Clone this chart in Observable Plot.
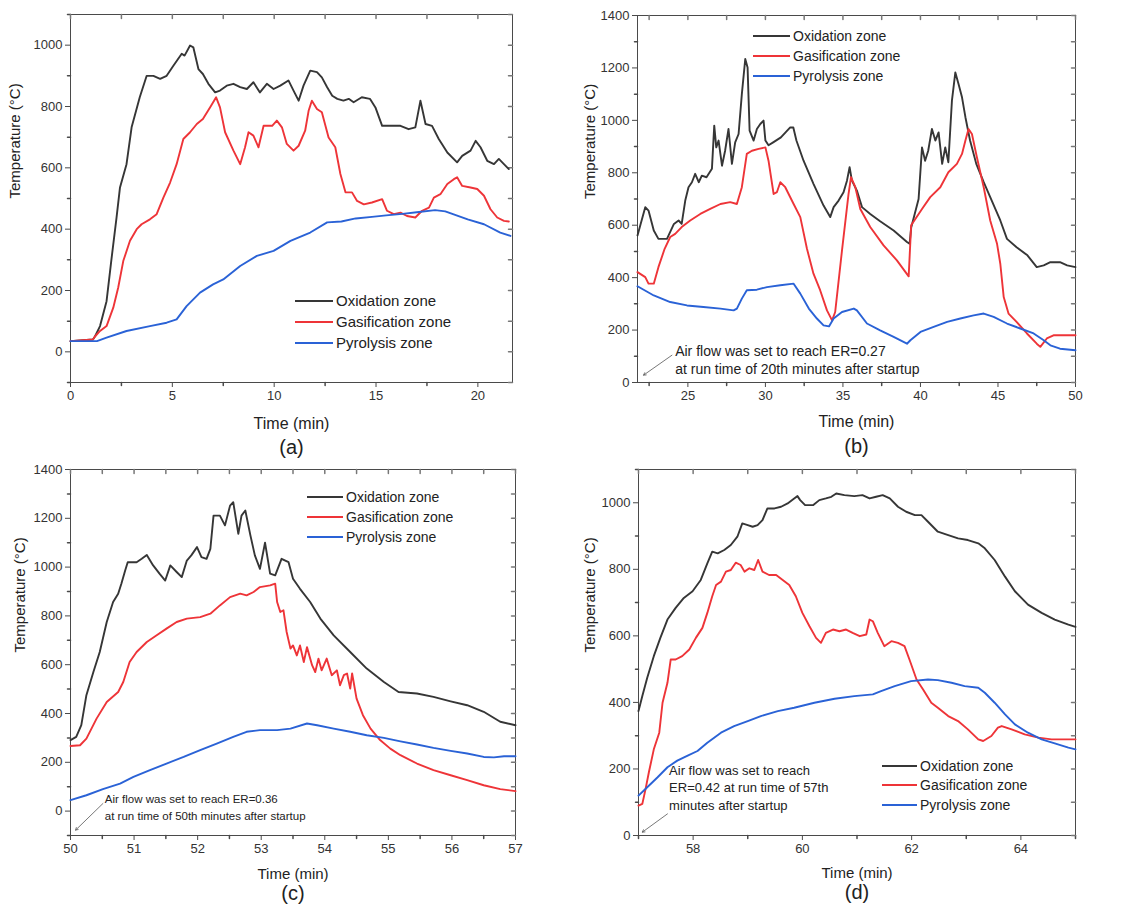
<!DOCTYPE html>
<html><head><meta charset="utf-8">
<script src="https://cdn.jsdelivr.net/npm/d3@7"></script>
<script src="https://cdn.jsdelivr.net/npm/@observablehq/plot@0.6"></script>
<style>
body{margin:0;background:#fff;font-family:"Liberation Sans",Arial,sans-serif;}
#wrap{position:relative;width:1129px;height:911px;overflow:hidden;background:#fff;}
.panel{position:absolute;}
.panel svg{overflow:visible;}
.legend{position:absolute;color:#222;}
.legend .row{display:flex;align-items:center;white-space:nowrap;}
.legend .sw{display:inline-block;height:0;border-top:2.5px solid;margin-right:3px;}
</style></head><body><div id="wrap"></div><script>
// ---------- data: [time (min), temperature (°C)] ----------
const zones = ["Oxidation zone", "Gasification zone", "Pyrolysis zone"];

const aOx = [[0,35],[1.1,40],[1.2,50],[1.45,84],[1.77,165],[2.0,296],[2.26,438],[2.43,536],[2.75,612],[3.0,732],[3.4,830],[3.74,900],[4.07,900],[4.4,890],[4.72,900],[5.05,933],[5.46,972],[5.6,966],[5.87,999],[6.03,993],[6.28,922],[6.5,906],[6.77,874],[7.1,846],[7.34,852],[7.67,868],[8.0,874],[8.33,863],[8.66,857],[8.98,879],[9.3,846],[9.64,874],[9.97,857],[10.3,868],[10.7,885],[10.95,852],[11.2,819],[11.44,868],[11.77,917],[12.1,912],[12.34,895],[12.6,863],[12.85,835],[13.1,825],[13.4,819],[13.66,825],[13.9,814],[14.3,830],[14.7,825],[14.97,797],[15.3,737],[15.87,737],[16.2,737],[16.6,726],[16.93,732],[17.18,819],[17.43,743],[17.75,737],[18.08,694],[18.5,650],[18.98,618],[19.23,639],[19.64,656],[19.89,688],[20.13,667],[20.46,623],[20.79,612],[21.03,629],[21.28,612],[21.52,596]];
const aGas = [[0,35],[1.1,40],[1.2,50],[1.45,68],[1.77,84],[2.1,144],[2.34,209],[2.59,296],[2.92,362],[3.25,400],[3.49,416],[3.9,432],[4.23,449],[4.56,503],[4.89,552],[5.21,612],[5.54,694],[5.87,716],[6.2,743],[6.5,759],[6.85,797],[7.15,830],[7.34,797],[7.59,716],[8.0,656],[8.33,612],[8.57,667],[8.74,716],[8.98,705],[9.23,667],[9.48,737],[9.9,737],[10.13,754],[10.38,732],[10.62,678],[10.95,656],[11.2,672],[11.52,721],[11.69,786],[11.85,819],[12.1,792],[12.34,781],[12.67,699],[13.0,667],[13.25,580],[13.5,520],[13.82,520],[14.07,492],[14.4,481],[14.8,487],[15.3,498],[15.54,460],[15.87,449],[16.2,454],[16.52,443],[16.93,438],[17.26,460],[17.6,470],[17.84,503],[18.16,514],[18.5,547],[18.82,563],[18.98,569],[19.23,541],[19.64,536],[19.97,531],[20.3,509],[20.62,465],[20.95,438],[21.28,427],[21.52,425]];
const aPyr = [[0,35],[1.3,35],[1.77,46],[2.75,68],[3.9,84],[4.72,95],[5.21,106],[5.7,149],[6.36,193],[7.0,220],[7.5,236],[8.33,280],[9.15,313],[9.97,329],[10.8,362],[11.77,389],[12.6,422],[13.3,425],[14.0,435],[14.8,440],[15.5,445],[16.3,450],[17.0,455],[17.9,462],[18.4,458],[19.5,432],[20.3,416],[21.1,389],[21.6,378]];

const bOx = [[21.75,561],[21.9,593],[22.25,669],[22.46,656],[22.8,580],[23.1,548],[23.65,548],[24.1,605],[24.4,618],[24.6,605],[24.83,694],[25.04,745],[25.26,764],[25.47,796],[25.7,764],[25.9,789],[26.2,783],[26.55,815],[26.7,980],[26.83,897],[26.98,923],[27.2,827],[27.4,884],[27.62,967],[27.84,834],[28.05,916],[28.27,948],[28.48,1100],[28.7,1234],[28.85,1202],[28.98,961],[29.24,923],[29.45,967],[29.67,986],[29.88,999],[30.0,923],[30.2,905],[30.5,916],[31.0,935],[31.6,973],[31.8,973],[32.0,923],[32.46,846],[33.1,758],[33.75,675],[34.18,631],[34.4,669],[34.72,694],[35.04,726],[35.26,770],[35.43,821],[35.58,770],[35.9,732],[36.23,669],[36.76,643],[37.4,615],[38.27,580],[39.13,536],[39.3,529],[39.4,590],[39.88,700],[40.1,897],[40.3,846],[40.5,884],[40.74,967],[40.96,923],[41.17,954],[41.4,834],[41.6,897],[41.8,840],[42.03,1075],[42.25,1183],[42.46,1138],[42.68,1088],[42.9,1012],[43.2,923],[43.6,834],[44.08,764],[44.5,707],[45.15,618],[45.58,548],[46.2,516],[46.9,485],[47.5,440],[47.95,447],[48.38,459],[49.0,459],[49.46,447],[50,440]];
const bGas = [[21.75,421],[22.25,402],[22.46,377],[22.8,377],[23.1,440],[23.5,510],[23.86,555],[24.18,567],[24.6,593],[25.15,618],[25.8,643],[26.44,662],[27.1,681],[27.73,688],[28.16,681],[28.48,745],[28.8,872],[29.13,884],[29.56,891],[30.0,897],[30.2,846],[30.53,719],[30.74,726],[30.96,764],[31.28,745],[31.82,681],[32.25,631],[32.68,510],[33.1,415],[33.53,352],[33.97,275],[34.3,237],[34.5,269],[34.94,504],[35.36,719],[35.52,783],[35.8,745],[36.12,662],[36.76,593],[37.62,523],[38.48,466],[39.24,405],[39.4,600],[40.1,662],[40.63,707],[41.28,745],[41.8,802],[42.35,834],[42.68,872],[42.9,923],[43.1,967],[43.32,948],[43.64,859],[44.08,745],[44.5,618],[44.94,529],[45.15,453],[45.37,326],[45.68,263],[46.2,231],[46.87,187],[47.5,148],[47.73,136],[48.15,168],[48.58,180],[49.2,180],[50,180]];
const bPyr = [[21.75,367],[22.8,332],[23.86,307],[24.94,294],[26.0,288],[27.1,282],[27.95,275],[28.16,282],[28.48,320],[28.8,352],[29.45,354],[30.1,364],[30.96,371],[31.82,377],[32.25,339],[32.8,282],[33.32,244],[33.75,218],[34.1,214],[34.4,244],[34.94,269],[35.7,282],[35.9,275],[36.55,225],[37.4,199],[38.27,174],[39.13,148],[39.35,161],[40.0,193],[40.85,212],[41.72,231],[42.57,244],[43.43,256],[44.08,263],[44.72,250],[45.58,225],[46.44,206],[47.3,187],[47.95,161],[48.38,142],[49.0,129],[50,123]];

const cOx = [[50.0,291],[50.09,304],[50.17,352],[50.25,475],[50.36,570],[50.46,652],[50.57,775],[50.67,857],[50.75,891],[50.8,932],[50.86,986],[50.9,1020],[51.04,1020],[51.12,1034],[51.2,1050],[51.3,1007],[51.4,973],[51.49,945],[51.57,1007],[51.67,980],[51.75,959],[51.83,1027],[51.9,1048],[51.99,1082],[52.06,1041],[52.14,1034],[52.2,1075],[52.25,1211],[52.35,1211],[52.43,1171],[52.51,1252],[52.56,1266],[52.64,1136],[52.69,1211],[52.75,1232],[52.83,1130],[52.9,1048],[52.98,993],[53.06,1100],[53.14,973],[53.22,966],[53.32,1034],[53.43,1020],[53.5,952],[53.61,911],[53.77,857],[53.93,789],[54.14,720],[54.4,652],[54.66,584],[54.93,529],[55.16,488],[55.45,482],[55.71,468],[55.98,450],[56.24,434],[56.5,407],[56.76,366],[57,352]];
const cGas = [[50,267],[50.15,270],[50.25,297],[50.41,379],[50.57,447],[50.75,488],[50.83,529],[50.93,611],[51.04,652],[51.2,693],[51.35,720],[51.51,748],[51.67,775],[51.83,789],[52.04,795],[52.2,809],[52.35,843],[52.51,877],[52.67,891],[52.77,884],[52.88,898],[52.98,918],[53.14,925],[53.22,932],[53.25,857],[53.3,816],[53.35,823],[53.4,734],[53.46,666],[53.5,679],[53.56,638],[53.61,679],[53.67,611],[53.72,672],[53.8,598],[53.85,570],[53.9,625],[53.95,577],[54.03,625],[54.11,557],[54.19,577],[54.24,516],[54.3,557],[54.35,564],[54.4,502],[54.43,564],[54.5,461],[54.6,393],[54.72,338],[54.87,291],[55.03,256],[55.19,229],[55.45,195],[55.71,168],[55.98,147],[56.24,127],[56.5,106],[56.76,90],[57,82]];
const cPyr = [[50,45],[50.25,65],[50.51,90],[50.78,113],[50.99,140],[51.25,168],[51.51,195],[51.78,222],[52.04,250],[52.3,277],[52.56,304],[52.77,325],[52.98,332],[53.25,332],[53.46,338],[53.72,359],[53.88,352],[54.14,338],[54.4,325],[54.66,311],[54.93,300],[55.19,286],[55.45,273],[55.71,259],[55.98,247],[56.24,236],[56.5,222],[56.66,220],[56.82,225],[57,225]];

const dOx = [[57.0,374],[57.07,419],[57.16,474],[57.28,539],[57.4,594],[57.53,649],[57.68,684],[57.83,714],[57.99,734],[58.14,768],[58.26,818],[58.35,853],[58.45,848],[58.57,858],[58.69,873],[58.81,898],[58.9,938],[59.0,933],[59.09,928],[59.18,933],[59.27,948],[59.36,983],[59.49,983],[59.61,988],[59.73,998],[59.85,1013],[59.91,1020],[59.96,1008],[60.05,993],[60.2,993],[60.31,1008],[60.43,1013],[60.53,1018],[60.62,1028],[60.77,1023],[60.95,1020],[61.1,1023],[61.23,1013],[61.35,1018],[61.47,1023],[61.6,1013],[61.75,988],[61.9,973],[62.06,963],[62.18,963],[62.3,943],[62.48,913],[62.67,903],[62.85,893],[63.03,888],[63.22,878],[63.34,863],[63.52,828],[63.71,778],[63.89,734],[64.13,694],[64.38,669],[64.62,649],[64.87,634],[65.0,627]];
const dGas = [[57.0,90],[57.07,95],[57.13,140],[57.19,190],[57.28,259],[57.38,309],[57.44,399],[57.53,459],[57.59,529],[57.68,529],[57.8,539],[57.93,559],[58.05,594],[58.17,624],[58.26,669],[58.35,719],[58.42,753],[58.51,763],[58.6,793],[58.69,798],[58.78,820],[58.87,813],[58.94,793],[59.03,803],[59.12,798],[59.19,828],[59.27,793],[59.39,783],[59.52,783],[59.64,768],[59.76,753],[59.88,719],[60.0,669],[60.13,629],[60.25,594],[60.34,579],[60.43,609],[60.56,619],[60.68,614],[60.8,619],[60.92,609],[61.05,599],[61.17,604],[61.23,649],[61.29,644],[61.38,609],[61.5,569],[61.63,584],[61.75,579],[61.87,569],[61.96,529],[62.09,469],[62.21,439],[62.36,399],[62.48,384],[62.67,359],[62.85,344],[63.03,319],[63.22,289],[63.31,284],[63.46,299],[63.58,324],[63.65,329],[63.83,319],[64.07,304],[64.32,294],[64.56,289],[64.81,289],[65.0,289]];
const dPyr = [[57.0,120],[57.16,145],[57.35,175],[57.53,205],[57.71,225],[57.9,240],[58.08,254],[58.26,279],[58.51,309],[58.75,329],[59.0,344],[59.24,359],[59.55,374],[59.85,384],[60.22,399],[60.59,411],[60.95,419],[61.29,424],[61.44,434],[61.69,449],[61.99,464],[62.3,469],[62.48,467],[62.73,459],[62.97,449],[63.22,444],[63.34,429],[63.52,399],[63.71,364],[63.89,334],[64.13,309],[64.38,289],[64.62,277],[64.87,264],[65,259]];

// tick values
const aXTicks = [0,5,10,15,20], aXMinor = [2.5,7.5,12.5,17.5];
const aYTicks = [0,200,400,600,800,1000], aYMinor = [-100,100,300,500,700,900,1100];
const bXTicks = [25,30,35,40,45,50], bXMinor = [22.5,27.5,32.5,37.5,42.5,47.5];
const bYTicks = [0,200,400,600,800,1000,1200,1400], bYMinor = [100,300,500,700,900,1100,1300];
const cXTicks = [50,51,52,53,54,55,56,57], cXMinor = [50.5,51.5,52.5,53.5,54.5,55.5,56.5];
const cYTicks = [0,200,400,600,800,1000,1200,1400], cYMinor = [-100,100,300,500,700,900,1100,1300];
const dXTicks = [58,60,62,64], dXMinor = [57,59,61,63,65];
const dYTicks = [0,200,400,600,800,1000], dYMinor = [100,300,500,700,900,1100];

// annotations
const bNote = ["Air flow was set to reach ER=0.27", "at run time of 20th minutes after startup"];
const cNote = ["Air flow was set to reach ER=0.36", "at run time of 50th minutes after startup"];
const dNote = ["Air flow was set to reach", "ER=0.42 at run time of 57th", "minutes after startup"];

// ---------- layout / style ----------
const colors = ["#363636", "#ee3438", "#2a62d6"];
const FONT = '"Liberation Sans", Arial, sans-serif';
const tickShape = {draw(ctx, l) { ctx.moveTo(0, 0); ctx.lineTo(0, -l); }};

const panels = [
  {tag: "(a)", left: 0, top: 0, w: 560, h: 470, ml: 70, mr: 48, mt: 14, mb: 88,
   x: [0, 21.7], y: [-100, 1100], series: [aOx, aGas, aPyr],
   xt: aXTicks, xm: aXMinor, yt: aYTicks, ym: aYMinor, ylabDx: -55, timeDy: 46, timeFs: 16, tagDy: 71,
   legend: {left: 295, top: 290, row: 21, fs: 15, sw: 38}},
  {tag: "(b)", left: 560, top: 0, w: 569, h: 470, ml: 77, mr: 54, mt: 15, mb: 88,
   x: [21.75, 50], y: [0, 1400], series: [bOx, bGas, bPyr],
   xt: bXTicks, xm: bXMinor, yt: bYTicks, ym: bYMinor, ylabDx: -47, timeDy: 44, timeFs: 16, tagDy: 70,
   note: {lines: bNote, x: 24.18, y: 150, fs: 14, lh: 1.3, a: [23.97, 104, 22.14, 28]},
   legend: {left: 753, top: 26, row: 20, fs: 14, sw: 37}},
  {tag: "(c)", left: 0, top: 455, w: 560, h: 456, ml: 70, mr: 45, mt: 14, mb: 76,
   x: [50, 57], y: [-100, 1400], series: [cOx, cGas, cPyr],
   xt: cXTicks, xm: cXMinor, yt: cYTicks, ym: cYMinor, ylabDx: -50, timeDy: 43, timeFs: 15, tagDy: 64,
   note: {lines: cNote, x: 50.54, y: 80, fs: 11.5, lh: 1.45, a: [50.51, 31, 50.08, -78]},
   legend: {left: 307, top: 487, row: 20, fs: 14, sw: 36}},
  {tag: "(d)", left: 560, top: 455, w: 569, h: 456, ml: 78, mr: 54, mt: 14, mb: 76,
   x: [57, 65], y: [0, 1100], series: [dOx, dGas, dPyr],
   xt: dXTicks, xm: dXMinor, yt: dYTicks, ym: dYMinor, ylabDx: -48, timeDy: 42, timeFs: 15, tagDy: 63,
   note: {lines: dNote, x: 57.56, y: 220, fs: 13, lh: 1.34, a: [57.53, 65, 57.07, 10]},
   legend: {left: 882, top: 756, row: 19.5, fs: 14, sw: 35}}
];

const wrap = document.getElementById("wrap");
const fmt = d3.format("d");

for (const p of panels) {
  const marks = [
    Plot.frame({stroke: "#4a4a4a", strokeWidth: 1}),
    Plot.axisX({ticks: p.xt, tickSize: 5, tickPadding: 3, fontSize: 13, tickFormat: fmt, label: null, stroke: "#4a4a4a", fill: "#333"}),
    Plot.axisY({ticks: p.yt, tickSize: 5, tickPadding: 3, fontSize: 13, tickFormat: fmt, label: null, stroke: "#4a4a4a", fill: "#333"}),
    Plot.vector(p.xm, {x: d => d, frameAnchor: "bottom", rotate: 180, length: 3, anchor: "start", shape: tickShape, stroke: "#4a4a4a"}),
    Plot.vector(p.ym, {y: d => d, frameAnchor: "left", rotate: -90, length: 3, anchor: "start", shape: tickShape, stroke: "#4a4a4a"}),
    Plot.vector(p.xt.concat(p.xm), {x: d => d, frameAnchor: "top", rotate: 180, length: 4, anchor: "start", shape: tickShape, stroke: "#777"}),
    Plot.vector(p.yt.concat(p.ym), {y: d => d, frameAnchor: "right", rotate: -90, length: 4, anchor: "start", shape: tickShape, stroke: "#777"}),
    ...p.series.map((s, i) => Plot.line(s, {x: d => d[0], y: d => d[1], stroke: colors[i], strokeWidth: 1.9, strokeLinejoin: "round"})),
    Plot.text(["Time (min)"], {frameAnchor: "bottom", dy: p.timeDy, fontSize: p.timeFs, fill: "#222"}),
    Plot.text(["Temperature (\u00B0C)"], {frameAnchor: "left", dx: p.ylabDx, rotate: -90, fontSize: 15, fill: "#222"}),
    Plot.text([p.tag], {frameAnchor: "bottom", dy: p.tagDy, fontSize: 20, fill: "#222"})
  ];
  if (p.note) {
    const n = p.note;
    marks.push(Plot.text([n.lines.join("\n")], {x: n.x, y: n.y, text: d => d, textAnchor: "start", lineAnchor: "top", lineHeight: n.lh, fontSize: n.fs, fill: "#222"}));
    marks.push(Plot.arrow([n.a], {x1: d => d[0], y1: d => d[1], x2: d => d[2], y2: d => d[3], stroke: "#555", strokeWidth: 0.8, headLength: 5, bend: false}));
  }
  const svg = Plot.plot({
    width: p.w, height: p.h,
    marginLeft: p.ml, marginRight: p.mr, marginTop: p.mt, marginBottom: p.mb,
    x: {domain: p.x}, y: {domain: p.y},
    style: {fontFamily: FONT, background: "transparent", overflow: "visible"},
    marks
  });
  const div = document.createElement("div");
  div.className = "panel";
  div.style.left = p.left + "px";
  div.style.top = p.top + "px";
  div.appendChild(svg);
  wrap.appendChild(div);

  const lg = document.createElement("div");
  lg.className = "legend";
  lg.style.left = p.legend.left + "px";
  lg.style.top = p.legend.top + "px";
  lg.style.fontSize = p.legend.fs + "px";
  zones.forEach((z, i) => {
    const row = document.createElement("div");
    row.className = "row";
    row.style.height = p.legend.row + "px";
    const sw = document.createElement("span");
    sw.className = "sw";
    sw.style.width = p.legend.sw + "px";
    sw.style.borderTopColor = colors[i];
    const tx = document.createElement("span");
    tx.textContent = z;
    row.appendChild(sw); row.appendChild(tx);
    lg.appendChild(row);
  });
  wrap.appendChild(lg);
}
</script></body></html>
